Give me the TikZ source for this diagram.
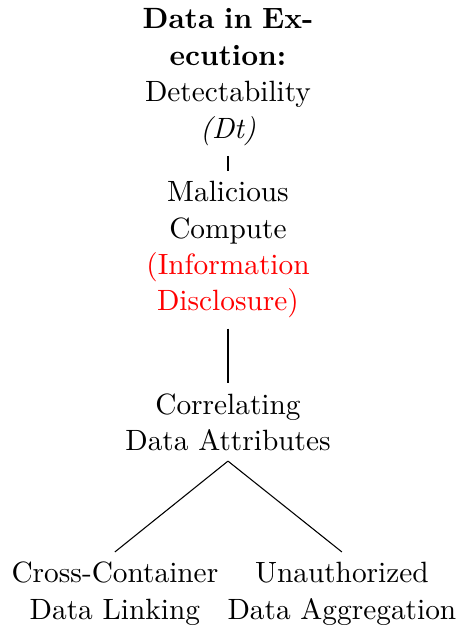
\documentclass[11pt,tikz,border=0pt]{standalone}
\usetikzlibrary{positioning}
\tikzset{
  item/.style={align=center, text width=2.5cm},
  wideitem/.style={item, text width=2.8cm},
  leafitem/.style={item, text width=3.1cm},
}
\begin{document}
\begin{tikzpicture}
  \useasboundingbox (0,0) rectangle (170.15pt,-235.45pt);
  % root
  \node[item] (dt) at (85.07pt,-28.8pt) {\textbf{Data in Ex-\\ecution:}\\Detectability\\\textit{(Dt)}};

  % chain
  \node[item, below=5.6pt of dt] (mal) {Malicious\\Compute\\\textcolor{red}{(Information}\\\textcolor{red}{Disclosure)}};
  \node[wideitem, below=20.3pt of mal] (corr) {Correlating\\Data Attributes};

  % leaves
  \node[leafitem, below=33.9pt of corr, xshift=-42.2pt] (cross) {Cross-Container\\Data Linking};
  \node[leafitem, below=33.9pt of corr, xshift=42.5pt] (aggr) {Unauthorized\\Data Aggregation};

  \draw (dt) -- (mal);
  \draw (mal) -- (corr);
  \draw (corr.south) -- (cross.north);
  \draw (corr.south) -- (aggr.north);
\end{tikzpicture}
\end{document}
